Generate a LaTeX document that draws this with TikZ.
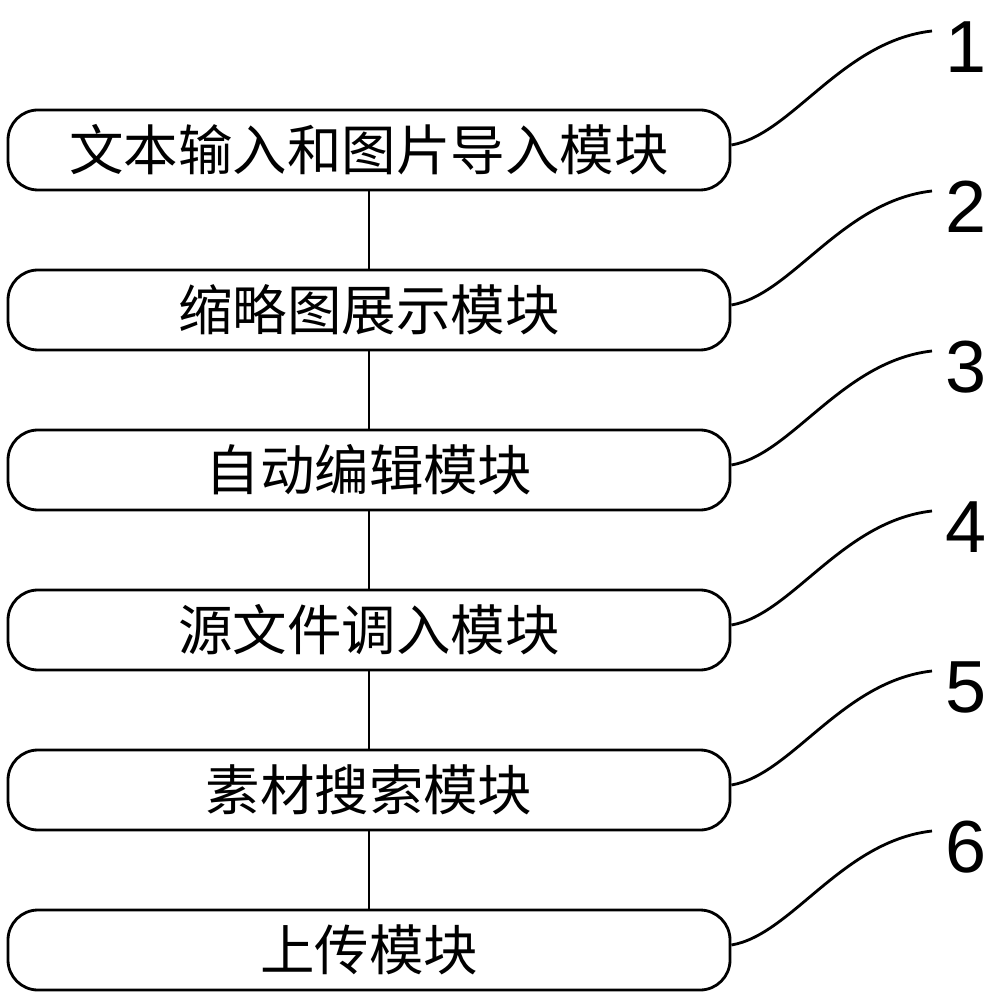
\documentclass[tikz,border=0pt]{standalone}
\usepackage{fontspec}
\setmainfont{Liberation Sans}
\newfontfamily\cjk{Noto Sans CJK SC}
\begin{document}
\begin{tikzpicture}[modbox/.style={draw=black,thick,rounded corners=0.3cm,minimum width=7.22cm,minimum height=0.8cm,inner sep=0pt,font=\cjk\fontsize{15.5}{18}\selectfont},
lead/.style={draw=black,thick}]
\useasboundingbox (0,0) rectangle (10,9.99);
\node[modbox] (m1) at (3.69,8.49) {文本输入和图片导入模块};
\node[modbox] (m2) at (3.69,6.89) {缩略图展示模块};
\node[modbox] (m3) at (3.69,5.29) {自动编辑模块};
\node[modbox] (m4) at (3.69,3.69) {源文件调入模块};
\node[modbox] (m5) at (3.69,2.09) {素材搜索模块};
\node[modbox] (m6) at (3.69,0.49) {上传模块};
\foreach \i/\j in {1/2,2/3,3/4,4/5,5/6}
  \draw[lead] (m\i.south) -- (m\j.north);
\foreach \i in {1,...,6} {
  \node[font=\fontsize{21}{24}\selectfont] (n\i) at (9.66,{9.52-(\i-1)*1.6}) {\i};
  \coordinate (e\i) at (9.32,{9.68-(\i-1)*1.6});
  \draw[lead] (m\i.east) ++(0,0.05) .. controls +(0.6,0.1) and +(-0.9,-0.1) .. (e\i);
}
\end{tikzpicture}
\end{document}
